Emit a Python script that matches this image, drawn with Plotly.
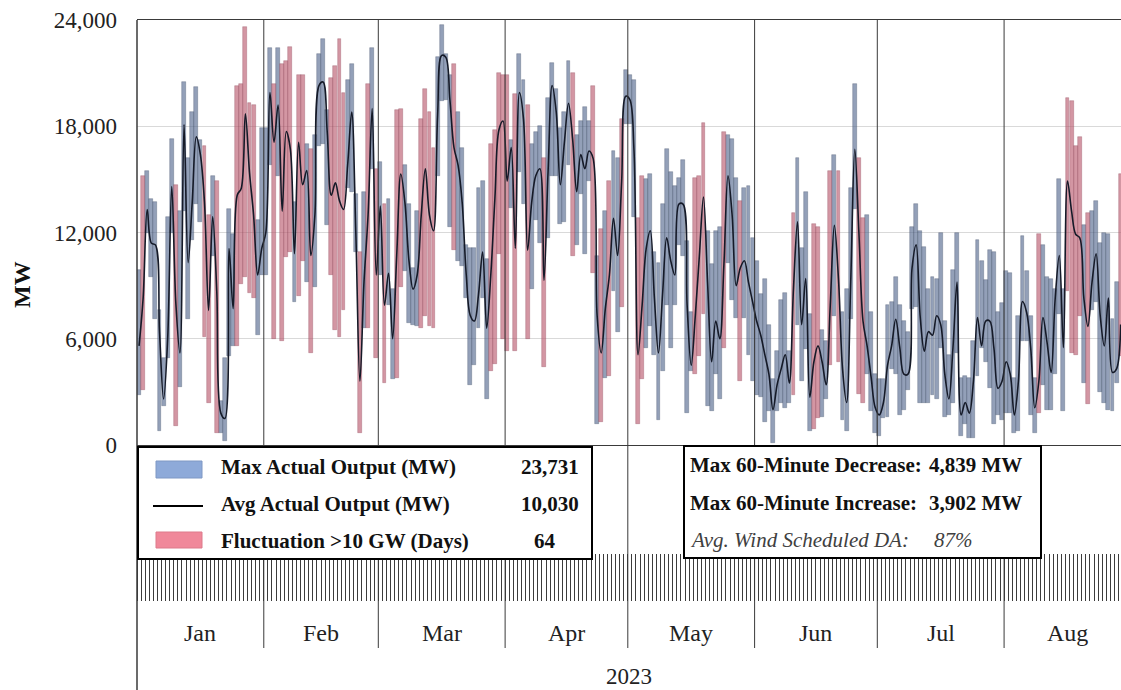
import plotly.graph_objects as go
import pandas as pd

start_date = "2023-01-01"
month_names = ["Jan", "Feb", "Mar", "Apr", "May", "Jun", "Jul", "Aug"]
month_starts = ["2023-01-01", "2023-02-01", "2023-03-01", "2023-04-01",
                "2023-05-01", "2023-06-01", "2023-07-01", "2023-08-01", "2023-09-01"]
y_ticks = [0, 6000, 12000, 18000, 24000]
fluct_threshold = 10000

# Daily max actual wind output (MW), Jan 1 - Aug 29 2023
max_out = [
    # Jan
    9900, 15200, 15500, 13900, 13700, 7600, 4900, 12900, 17300, 14700, 13200, 20500, 16200, 18800, 20200, 17200,
    16900, 13000, 15200, 14900, 2500, 4900, 13300, 11900, 20300, 20400, 23600, 19300, 19200, 12700, 17900,
    # Feb
    17900, 22400, 20400, 22400, 21500, 21700, 22500, 13700, 20900, 20900, 17000, 16700, 17500, 22100, 22900, 18900,
    20700, 21400, 22900, 19900, 20600, 21500, 14200, 10900, 14300, 20400, 22400, 15600,
    # Mar
    16000, 13600, 13900, 8800, 18900, 19000, 15800, 13600, 10000, 13200, 18400, 20100, 18800, 16800, 21900, 23700,
    22100, 20900, 21500, 18800, 16800, 11300, 11100, 11100, 14500, 14900, 10500, 17000, 17800, 21000, 20900,
    # Apr
    20900, 17200, 19800, 22100, 20600, 19200, 17000, 17700, 18000, 16200, 19600, 21600, 20100, 17900, 18800, 21700,
    21000, 17500, 18300, 19100, 18300, 20300, 10700, 12200, 13200, 14900, 16600, 16200, 18400, 21200,
    # May
    20900, 20600, 12800, 15200, 15000, 15300, 10900, 10300, 13600, 16700, 15400, 14600, 15100, 16100, 11500, 7500,
    15100, 15200, 18200, 12100, 10200, 12100, 12300, 17700, 17500, 17300, 15100, 13800, 14500, 14600, 11700,
    # Jun
    10400, 8500, 9400, 6800, 3700, 5300, 8200, 8600, 5300, 13100, 16200, 11100, 14300, 7400, 12500, 12300,
    6500, 5900, 15500, 16400, 15500, 7500, 8800, 14500, 20400, 16200, 12800, 13000, 7500, 4000,
    # Jul
    3700, 3700, 7900, 8100, 9500, 7900, 7000, 6400, 12300, 13600, 12100, 11200, 8800, 9500, 9400, 12000,
    7000, 5100, 9900, 12000, 3800, 3900, 3800, 5900, 11600, 10400, 9300, 11000, 10900, 7500, 8000,
    # Aug
    9800, 9700, 3800, 7300, 11800, 9800, 7300, 3800, 11900, 11300, 9500, 9400, 8800, 15000, 8800, 19600,
    19400, 16900, 17400, 12400, 13100, 13200, 13800, 11400, 12000, 11900, 7100, 9200, 15300,
]

# Daily min actual wind output (MW)
min_out = [
    # Jan
    2800, 3100, 12000, 9500, 7100, 800, 2200, 4900, 12000, 1100, 3300, 13200, 7100, 11600, 13600, 12600,
    6100, 2400, 10700, 700, 700, 200, 5000, 5600, 5600, 9100, 9500, 8600, 8300, 6200, 9600,
    # Feb
    9600, 15800, 6000, 15200, 5900, 10600, 10900, 8100, 8400, 10400, 9200, 5200, 8900, 16900, 17000, 12400,
    9600, 6500, 6100, 7600, 14500, 14300, 10900, 700, 6600, 6600, 15600, 4900,
    # Mar
    9600, 3500, 7900, 3700, 3800, 8900, 9800, 6900, 6800, 6700, 6600, 7300, 6700, 6600, 15200, 19400,
    19500, 12300, 11000, 10400, 10100, 8300, 3400, 4500, 6600, 8300, 2600, 4200, 4600, 10800, 6000,
    # Apr
    5300, 13400, 5300, 15400, 13600, 6000, 8800, 12700, 11400, 4400, 11700, 15200, 15200, 12500, 12600, 15800,
    10700, 11300, 14200, 10800, 14900, 9700, 1200, 1300, 3800, 3900, 8700, 6400, 7800, 18100,
    # May
    18100, 12900, 1200, 3700, 5500, 6700, 5100, 1400, 4200, 7900, 5500, 7900, 11300, 10700, 1800, 4200,
    4000, 5000, 7400, 2200, 1900, 4000, 2600, 5500, 10300, 8200, 7200, 3600, 7200, 5100, 3600,
    # Jun
    2800, 2700, 1300, 1900, 100, 1900, 2400, 2100, 2400, 2800, 6800, 3600, 5400, 800, 900, 1500,
    1600, 2600, 4500, 7300, 4700, 1400, 800, 7100, 13300, 2900, 2400, 4000, 1900, 700,
    # Jul
    500, 1500, 1600, 4300, 4000, 1700, 2000, 3100, 7700, 7800, 2400, 2400, 2400, 2800, 2600, 5500,
    1600, 1700, 2400, 5200, 500, 1200, 400, 400, 3900, 5500, 4700, 3200, 1200, 1700, 1400,
    # Aug
    1800, 1800, 700, 800, 5900, 5900, 1700, 700, 1800, 3400, 2000, 2000, 4000, 7400, 1900, 8700,
    5200, 5100, 7300, 3500, 2300, 7600, 8100, 3000, 2400, 2000, 1900, 3500, 5000,
]

# Daily average actual wind output (MW)
avg_out = [
    # Jan
    5600, 8300, 13300, 11400, 11300, 6400, 2600, 6000, 14600, 8000, 5200, 18100, 10300, 13700, 17400, 16400,
    13700, 7600, 12900, 8700, 1800, 1500, 11100, 7700, 14100, 14500, 18700, 15400, 13000, 9600, 11100,
    # Feb
    12000, 19900, 17100, 19200, 13200, 17700, 16700, 10800, 17100, 14700, 15500, 10700, 13000, 20300, 20500, 17700,
    14100, 14800, 13800, 13300, 15800, 18800, 12000, 3600, 9200, 13000, 19000, 9600,
    # Mar
    13500, 7900, 9700, 6000, 10700, 15300, 13700, 10400, 8800, 9600, 13000, 15600, 13000, 12100, 18600, 22000,
    21900, 19500, 16800, 15800, 13700, 9600, 7300, 7000, 8500, 10900, 6600, 9600, 13900, 17800, 18300,
    # Apr
    14900, 16800, 11100, 19900, 18400, 11000, 13700, 15200, 15600, 9300, 15400, 20300, 18800, 14700, 17100, 19300,
    17300, 14300, 16400, 15600, 16600, 16200, 7300, 5200, 7700, 9600, 12800, 10700, 14900, 19700,
    # May
    19500, 16700, 5100, 7900, 11100, 12100, 8300, 5200, 8500, 11700, 10400, 9600, 13600, 13600, 7900, 4500,
    7300, 10700, 14000, 9200, 4700, 7000, 6000, 10200, 15200, 13000, 9000, 10000, 10400, 9200, 8100,
    # Jun
    7000, 6200, 5100, 4000, 2000, 3400, 4300, 5100, 3500, 8800, 12600, 6800, 9400, 2700, 4700, 5600,
    4700, 3400, 7900, 12400, 9400, 4300, 2400, 9200, 16700, 12000, 7000, 5600, 3800, 2100,
    # Jul
    1700, 2400, 4500, 5600, 7100, 5500, 4000, 4000, 10000, 11300, 7200, 5300, 6400, 6200, 7300, 6800,
    4000, 2600, 5500, 9200, 1700, 2400, 1800, 3600, 7200, 5600, 7000, 7000, 5500, 3200, 3600,
    # Aug
    4700, 4000, 1700, 3600, 8100, 7500, 5500, 2100, 3600, 7200, 5800, 4100, 8300, 10700, 5500, 14900,
    13200, 11900, 11700, 8300, 6700, 9200, 10800, 7300, 5600, 8300, 4100, 4300, 6800,
]

legend_values = {"max": "23,731", "avg": "10,030", "days": "64"}
stats_labels = ["Max 60-Minute Decrease:", "Max 60-Minute Increase:", "Avg. Wind Scheduled DA:"]
stats_values = ["4,839 MW", "3,902 MW", "87%"]

# ---------------------------------------------------------------------------
FONT = "Liberation Serif, Times New Roman, serif"
W, H = 1121, 690
ML, MR, MT, MB = 137, 0, 20, 0
PW, PH = W - ML - MR, H - MT - MB


def px(X):
    return (X - ML) / PW


def py(Y):
    return (H - MB - Y) / PH


dates = pd.date_range(start_date, periods=len(max_out), freq="D")
centers = dates + pd.Timedelta(hours=12)
day_ms = 86400000

blue_i = [i for i in range(len(max_out)) if max_out[i] - min_out[i] <= fluct_threshold]
red_i = [i for i in range(len(max_out)) if max_out[i] - min_out[i] > fluct_threshold]

fig = go.Figure()
fig.add_trace(go.Bar(
    x=[centers[i] for i in blue_i],
    y=[max_out[i] - min_out[i] for i in blue_i],
    base=[min_out[i] for i in blue_i],
    width=day_ms * 0.95,
    marker=dict(color="rgba(80,102,140,0.62)", line=dict(color="rgba(66,80,105,0.55)", width=0.6)),
    name="Max Actual Output (MW)", showlegend=False, hoverinfo="skip",
))
fig.add_trace(go.Bar(
    x=[centers[i] for i in red_i],
    y=[max_out[i] - min_out[i] for i in red_i],
    base=[min_out[i] for i in red_i],
    width=day_ms * 0.95,
    marker=dict(color="rgba(184,86,106,0.62)", line=dict(color="rgba(145,70,88,0.55)", width=0.6)),
    name="Fluctuation >10 GW (Days)", showlegend=False, hoverinfo="skip",
))
fig.add_trace(go.Scatter(
    x=centers, y=avg_out, mode="lines",
    line=dict(color="#151a28", width=1.6, shape="spline", smoothing=1.0),
    name="Avg Actual Output (MW)", showlegend=False, hoverinfo="skip",
))
# invisible trace carrying the daily tick strip axis
fig.add_trace(go.Scatter(x=[dates[0]], y=[0], xaxis="x2", yaxis="y", mode="markers",
                         marker=dict(opacity=0), showlegend=False, hoverinfo="skip"))

x_end = dates[-1] + pd.Timedelta(hours=14)

shapes = []
# month divider lines (plot + axis label band)
for ms in month_starts[1:-1]:
    shapes.append(dict(type="line", xref="x", yref="paper", x0=ms, x1=ms,
                       y0=py(648), y1=1, line=dict(color="#3a3a3a", width=1)))
# left border, full height
shapes.append(dict(type="line", xref="paper", yref="paper", x0=0, x1=0, y0=0, y1=1,
                   line=dict(color="#3a3a3a", width=1.5)))
# legend box 1
shapes.append(dict(type="rect", xref="paper", yref="paper", x0=px(138), x1=px(592),
                   y0=py(559), y1=py(447), fillcolor="white", line=dict(color="black", width=2)))
# legend box 2
shapes.append(dict(type="rect", xref="paper", yref="paper", x0=px(684), x1=px(1041),
                   y0=py(558), y1=py(446), fillcolor="white", line=dict(color="black", width=2)))
# legend swatches
shapes.append(dict(type="rect", xref="paper", yref="paper", x0=px(156), x1=px(202),
                   y0=py(478), y1=py(461), fillcolor="#8eaad9", line=dict(color="#7f98c4", width=1)))
shapes.append(dict(type="line", xref="paper", yref="paper", x0=px(153), x1=px(203),
                   y0=py(506), y1=py(506), line=dict(color="black", width=2)))
shapes.append(dict(type="rect", xref="paper", yref="paper", x0=px(156), x1=px(202),
                   y0=py(548), y1=py(532), fillcolor="#f0889a", line=dict(color="#dd7a8b", width=1)))

ann = []
tf = dict(family=FONT, size=21, color="#111111")
ann.append(dict(text="<b>Max Actual Output (MW)</b>", x=px(219), y=py(467), xanchor="left"))
ann.append(dict(text="<b>Avg Actual Output (MW)</b>", x=px(219), y=py(504), xanchor="left"))
ann.append(dict(text="<b>Fluctuation >10 GW (Days)</b>", x=px(219), y=py(541), xanchor="left"))
ann.append(dict(text="<b>" + legend_values["max"] + "</b>", x=px(581), y=py(467), xanchor="right"))
ann.append(dict(text="<b>" + legend_values["avg"] + "</b>", x=px(581), y=py(504), xanchor="right"))
ann.append(dict(text="<b>" + legend_values["days"] + "</b>", x=px(545), y=py(541), xanchor="center"))
ann.append(dict(text="<b>" + stats_labels[0] + "</b>", x=px(688), y=py(465), xanchor="left"))
ann.append(dict(text="<b>" + stats_labels[1] + "</b>", x=px(688), y=py(503), xanchor="left"))
ann.append(dict(text="<b>" + stats_values[0] + "</b>", x=px(1024), y=py(465), xanchor="right"))
ann.append(dict(text="<b>" + stats_values[1] + "</b>", x=px(1024), y=py(503), xanchor="right"))
for a in ann:
    a.update(xref="paper", yref="paper", yanchor="middle", showarrow=False, font=tf)
ann.append(dict(text="<i>" + stats_labels[2] + "</i>", x=px(688), y=py(540), xanchor="left",
                xref="paper", yref="paper", yanchor="middle", showarrow=False,
                font=dict(family=FONT, size=21, color="#404040")))
ann.append(dict(text="<i>" + stats_values[2] + "</i>", x=px(932), y=py(540), xanchor="left",
                xref="paper", yref="paper", yanchor="middle", showarrow=False,
                font=dict(family=FONT, size=21, color="#404040")))

# month labels
for k, name in enumerate(month_names):
    a0 = pd.Timestamp(month_starts[k])
    mid = a0 + (pd.Timestamp(month_starts[k + 1]) - a0) / 2
    ann.append(dict(text=name, x=mid, y=py(633), xref="x", yref="paper", xanchor="center",
                    yanchor="middle", showarrow=False, font=dict(family=FONT, size=24, color="#222222")))
ann.append(dict(text="2023", x=px(629), y=py(676), xref="paper", yref="paper", xanchor="center",
                yanchor="middle", showarrow=False, font=dict(family=FONT, size=23, color="#222222")))
ann.append(dict(text="<b>MW</b>", x=px(22), y=py(285), xref="paper", yref="paper", textangle=-90,
                xanchor="center", yanchor="middle", showarrow=False,
                font=dict(family=FONT, size=24, color="#111111")))

fig.update_layout(
    width=W, height=H, autosize=False,
    margin=dict(l=ML, r=MR, t=MT, b=MB, pad=0, autoexpand=False),
    paper_bgcolor="white", plot_bgcolor="white",
    barmode="overlay", bargap=0,
    font=dict(family=FONT),
    xaxis=dict(type="date", range=[dates[0], x_end], anchor="y", automargin=False,
               showline=True, linecolor="#3a3a3a", linewidth=1, mirror=True,
               showgrid=False, zeroline=False, ticks="", showticklabels=False),
    xaxis2=dict(type="date", matches="x", overlaying="x", anchor="free", position=py(553),
                automargin=False,
                side="bottom", ticks="outside", ticklen=47, tickwidth=1, tickcolor="#3c3c3c",
                tick0=start_date, dtick=day_ms, showticklabels=False,
                showgrid=False, showline=False, zeroline=False),
    yaxis=dict(domain=[py(445), 1], range=[0, 24000], tickvals=y_ticks, tickformat=",d",
               automargin=False,
               showgrid=True, gridcolor="#d9d9d9", gridwidth=1, zeroline=False,
               showline=False, ticks="", ticklabelstandoff=19,
               tickfont=dict(family=FONT, size=23, color="#222222")),
    shapes=shapes,
    annotations=ann,
)

fig.write_html("out.html", config={"displayModeBar": False},
               post_script="document.body.style.margin='0px';document.body.style.overflow='hidden';")
